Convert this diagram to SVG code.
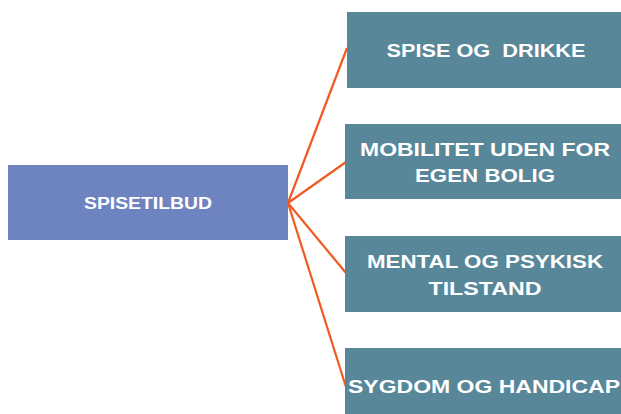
<svg xmlns="http://www.w3.org/2000/svg" width="621" height="414" viewBox="0 0 621 414">
<style>
.main{fill:#6D84C0}
.sub{fill:#58879A}
.t{fill:#FFFFFF;font-family:"Liberation Sans","Open Sans",Arial,sans-serif;font-weight:bold;font-size:18px;text-anchor:middle}
.conn{stroke:#F05A22;stroke-width:2.2;fill:none}
</style>
<rect width="621" height="414" fill="#FFFFFF"/>
<g id="connectors">
<line class="conn" x1="288" y1="203" x2="347" y2="48"/>
<line class="conn" x1="288" y1="203" x2="346" y2="162"/>
<line class="conn" x1="288" y1="203" x2="346" y2="273"/>
<line class="conn" x1="288" y1="203" x2="346" y2="387"/>
</g>
<g id="spisetilbud">
<rect class="main" x="8" y="165" width="280" height="75"/>
<text class="t" x="148" y="209" style="font-size:16px" textLength="128" lengthAdjust="spacingAndGlyphs">SPISETILBUD</text>
</g>
<g id="spise-og-drikke">
<rect class="sub" x="347" y="12" width="274" height="76"/>
<text class="t" x="486" y="57" textLength="199" lengthAdjust="spacingAndGlyphs" xml:space="preserve">SPISE OG  DRIKKE</text>
</g>
<g id="mobilitet">
<rect class="sub" x="345" y="124" width="276" height="75"/>
<text class="t" x="485" y="156" textLength="250" lengthAdjust="spacingAndGlyphs">MOBILITET UDEN FOR</text>
<text class="t" x="485" y="182" textLength="140" lengthAdjust="spacingAndGlyphs">EGEN BOLIG</text>
</g>
<g id="mental">
<rect class="sub" x="345" y="236" width="276" height="76"/>
<text class="t" x="485" y="268" textLength="236" lengthAdjust="spacingAndGlyphs">MENTAL OG PSYKISK</text>
<text class="t" x="485" y="295" textLength="113" lengthAdjust="spacingAndGlyphs">TILSTAND</text>
</g>
<g id="sygdom">
<rect class="sub" x="345" y="348" width="276" height="66"/>
<text class="t" x="484" y="393" textLength="272" lengthAdjust="spacingAndGlyphs">SYGDOM OG HANDICAP</text>
</g>
</svg>
